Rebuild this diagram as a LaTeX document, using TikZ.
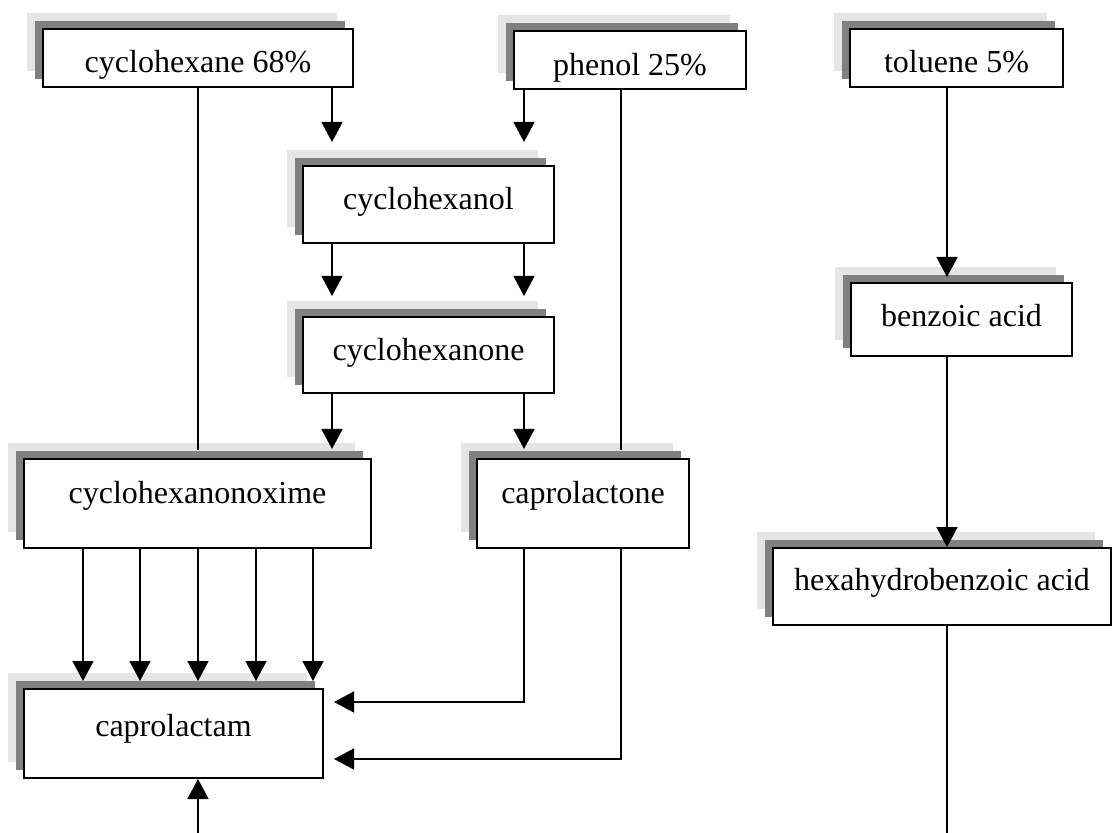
\documentclass[tikz,border=0pt]{standalone}
\usepackage{fontspec}
\setmainfont{Liberation Serif}
\usetikzlibrary{arrows.meta,shadows}

\tikzset{
  box/.style={draw,line width=1pt,fill=white,inner xsep=0pt,inner ysep=0pt,
    text height=22pt,text depth=#1,font=\fontsize{16pt}{19pt}\selectfont,
    copy shadow={shadow xshift=-8pt,shadow yshift=8pt,draw=none,fill=black!10,opacity=1},
    copy shadow={shadow xshift=-4pt,shadow yshift=4pt,draw=none,fill=black!50,opacity=1}},
}

\begin{document}
\begin{tikzpicture}[x=0.5pt,y=-0.5pt,line width=0.8pt,>={Triangle[length=10pt,width=10.5pt]}]
  \useasboundingbox (0,0) rectangle (1112,833);
  % starting materials
  \node[box=7pt,minimum width=155pt] (cyhex) at (198,58) {cyclohexane 68\%};
  \node[box=7pt,minimum width=116pt] (phenol) at (630,60.5) {phenol 25\%};
  \node[box=7pt,minimum width=106.5pt] (toluene) at (956.5,58) {toluene 5\%};
  % intermediates
  \node[box=16.5pt,minimum width=125.5pt] (cyhexol) at (428.5,204.5) {cyclohexanol};
  \node[box=16pt,minimum width=125.5pt] (cyhexone) at (428.5,355) {cyclohexanone};
  \node[box=22.5pt,minimum width=173.5pt] (oxime) at (197.5,503.5) {cyclohexanonoxime};
  \node[box=22.5pt,minimum width=106pt] (lactone) at (583,503.5) {caprolactone};
  \node[box=14.5pt,minimum width=110.5pt] (benzoic) at (961.5,319.5) {benzoic acid};
  \node[box=17.5pt,text height=21pt,minimum width=169pt] (hexa) at (942,586.5) {hexahydrobenzoic acid};
  % product
  \node[box=21pt,text height=23.5pt,minimum width=149.5pt] (lactam) at (173.5,733.5) {caprolactam};

  \coordinate (xA) at (332,0);
  \coordinate (xB) at (524,0);
  \coordinate (xC) at (621,0);
  \coordinate (xR) at (947,0);
  \coordinate (botL) at (198,833);
  \coordinate (botR) at (947,833);

  % cyclohexane / phenol routes
  \draw[->,shorten >=11.5pt] (cyhex.south -| xA) -- (cyhexol.north -| xA);
  \draw[->,shorten >=11.5pt] (phenol.south -| xB) -- (cyhexol.north -| xB);
  \draw[->,shorten >=10pt] (cyhexol.south -| xA) -- (cyhexone.north -| xA);
  \draw[->,shorten >=10pt] (cyhexol.south -| xB) -- (cyhexone.north -| xB);
  \draw[->,shorten >=4.5pt] (cyhexone.south -| xA) -- (oxime.north -| xA);
  \draw[->,shorten >=4.5pt] (cyhexone.south -| xB) -- (lactone.north -| xB);
  \draw[shorten >=4pt] (cyhex.south) -- (oxime.north -| cyhex.south);
  \draw[shorten >=4pt] (phenol.south -| xC) -- (lactone.north -| xC);
  \foreach \x in {83,140,198,256,313}{
    \coordinate (t) at (\x,0);
    \draw[->,shorten >=3.5pt] (oxime.south -| t) -- (lactam.north -| t);
  }
  \draw[->,shorten >=5pt] (lactone.south -| xB) |- ([yshift=15.75pt]lactam.east);
  \draw[->,shorten >=5pt] (lactone.south -| xC) |- ([yshift=-12.75pt]lactam.east);
  \draw[->] (botL) -- (lactam.south -| botL);
  % toluene route
  \draw[->,shorten >=2.5pt] (toluene.south -| xR) -- (benzoic.north -| xR);
  \draw[->] (benzoic.south -| xR) -- (hexa.north -| xR);
  \draw (hexa.south -| xR) -- (botR);
\end{tikzpicture}
\end{document}
